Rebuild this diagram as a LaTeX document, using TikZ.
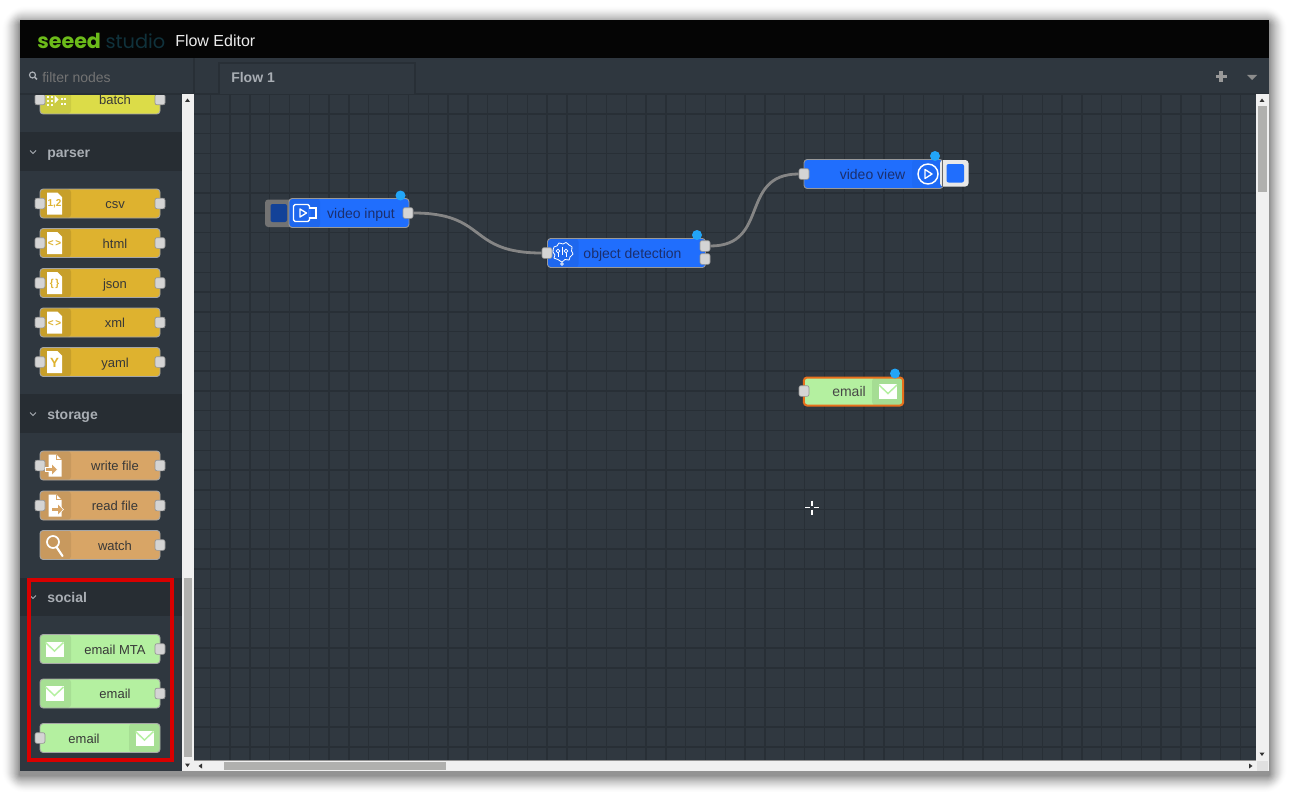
\documentclass[tikz,border=0pt]{standalone}
\usepackage{fontspec}
\setmainfont{Liberation Sans}
\newfontfamily\logofont{Poppins}
\usetikzlibrary{positioning}

\definecolor{barblack}{HTML}{050505}
\definecolor{panelcol}{HTML}{2F373F}
\definecolor{sectioncol}{HTML}{272D33}
\definecolor{canvascol}{HTML}{303840}
\definecolor{gridcol}{HTML}{282F36}
\definecolor{graytext}{HTML}{A9AEB4}
\definecolor{batchcol}{HTML}{DCDC48}
\definecolor{parsercol}{HTML}{DEB22F}
\definecolor{storecol}{HTML}{D8A566}
\definecolor{mailcol}{HTML}{B4F0A0}
\definecolor{bluecol}{HTML}{206EFD}
\definecolor{navytext}{HTML}{1B2F6E}
\definecolor{dotcol}{HTML}{22A5F7}
\definecolor{scrollcol}{HTML}{F0F0F0}
\definecolor{thumbcol}{HTML}{B0B0AE}

% icons, drawn round (0,0) in picture units
\newcommand{\docicon}[1]{%
  \fill[white] (-7.5,-11) -- (3,-11) -- (7.5,-6.5) -- (7.5,11) -- (-7.5,11) -- cycle;
  \node[iconlabel] (\nm-icon) at (0,0.5) {#1};}
\newcommand{\mailicon}{%
  \fill[white] (-9,-7.5) rectangle (9,7.5);
  \draw[mailcol,line width=1.1pt] (-9,-6.5) -- (0,2) -- (9,-6.5);}
\newcommand{\fileicon}[1]{%
  \fill[white] (-6,-11) -- (2,-11) -- (7,-6) -- (7,11) -- (-6,11) -- cycle;
  \draw[iconink,line width=.8pt] (2,-11) -- (2,-6) -- (7,-6);
  \fill[iconink,draw=white,line width=.5pt] (#1-6,2) -- (#1+0,2) -- (#1+0,-2) -- (#1+6,4) -- (#1+0,10) -- (#1+0,6) -- (#1-6,6) -- cycle;}
\newcommand{\lensicon}{%
  \draw[white,line width=1.3pt] (-1.5,-3) circle (6);
  \draw[white,line width=1.6pt,line cap=round] (2,2) -- (8,11);}
\newcommand{\batchicon}{%
  \foreach \dy in {-6,-2,2,6} {\fill[white!90!batchcol] (-7.5,\dy-1) rectangle (-5.5,\dy+1);
    \fill[white!90!batchcol] (-4,\dy-1) rectangle (-2,\dy+1);}
  \fill[white!90!batchcol] (0,-4) -- (4,0) -- (0,4) -- cycle;
  \foreach \dy in {0,5} {\fill[white!90!batchcol] (6,\dy-1) rectangle (8,\dy+1);
    \fill[white!90!batchcol] (9.5,\dy-1) rectangle (11.5,\dy+1);}}

\begin{document}
\begin{tikzpicture}[
  x=0.75pt, y=-0.75pt,
  flowbody/.style = {rectangle,rounded corners=2.4pt,line width=.7pt,inner sep=0pt,minimum height=21.75pt},
  leftbar/.style = {path picture={\fill[black,opacity=#1] (path picture bounding box.north west)
      rectangle ([xshift=23.25pt]path picture bounding box.south west);}},
  rightbar/.style = {path picture={\fill[black,opacity=#1] (path picture bounding box.north east)
      rectangle ([xshift=-23.25pt]path picture bounding box.south east);}},
  flowport/.style = {rectangle,rounded corners=1.5pt,fill=black!17,draw=black!42,line width=.5pt,
      inner sep=0pt,minimum width=7.5pt,minimum height=8pt},
  flowlabel/.style = {font=\fontsize{9.75}{11}\selectfont,text=black!78,inner sep=0pt,text height=7.5pt,text depth=0pt},
  canvaslabel/.style = {font=\fontsize{10.5}{12}\selectfont,text=navytext,inner sep=0pt,text height=8.2pt,text depth=0pt},
  iconlabel/.style = {font=\bfseries\fontsize{7.5}{8}\selectfont,text=iconink,inner sep=0pt},
  section/.style = {font=\bfseries\fontsize{10.5}{12}\selectfont,text=graytext,anchor=west,inner sep=0pt,text height=8.4pt,text depth=0pt},
  bluedot/.style = {circle,fill=dotcol,inner sep=0pt,minimum size=7.5pt},
  gridline/.style = {gridcol,line width=1.05pt},
  chevron/.style = {graytext,line width=.6pt},
  wire/.style = {draw=black!48,line width=2.1pt},
  arrowtip/.style = {fill=black!80}
]
  \useasboundingbox (0,0) rectangle (1289,792);

  % soft shadow of the window
  \foreach \s in {1,...,18} {
    \pgfmathsetmacro{\alpha}{0.06*(19-\s)/19}
    \fill[black,opacity=\alpha,rounded corners=\s pt] ({20-\s},{24-\s}) rectangle ({1269+\s},{775+\s});
  }

  % panels
  \fill[panelcol] (20,58) rectangle (182,771);
  \fill[canvascol] (194,94) rectangle (1256,760);
  \foreach \gx in {0,...,52}
    \draw[gridline] ({210.3+\gx*19.81},94) -- ({210.3+\gx*19.81},760);
  \foreach \gy in {0,...,32}
    \draw[gridline] (194,{114+\gy*19.78}) -- (1256,{114+\gy*19.78});

  % palette sections
  \fill[sectioncol] (20,132) rectangle (182,171);
  \fill[sectioncol] (20,394) rectangle (182,433);
  \fill[sectioncol] (20,578) rectangle (182,616);
  \foreach \nm/\lbl/\ypos in {parser/parser/152,storage/storage/414,social/social/597} {
    \node[section] (\nm-head) at (47,\ypos) {\lbl};
    \draw[chevron] (30,{\ypos-1.5}) -- (33,{\ypos+1.5}) -- (36,{\ypos-1.5});
  }

  % palette nodes with a port on each side
  \begin{scope}
    \colorlet{iconink}{batchcol}
    \foreach \nm/\lbl/\ypos/\ic in {batch/batch/99.5/\batchicon} {
      \node[flowbody,fill=batchcol,draw=black!35,leftbar=.07,minimum width=90pt] (\nm) at (100,\ypos) {};
      \node[flowlabel] (\nm-text) at (115,\ypos) {\lbl};
      \node[flowport] (\nm-in) at (40,\ypos) {};
      \node[flowport] (\nm-out) at (160,\ypos) {};
      \begin{scope}[shift={(54.5,\ypos)}]\ic\end{scope}
    }
  \end{scope}
  \begin{scope}
    \colorlet{iconink}{parsercol}
    \foreach \nm/\lbl/\ypos/\ic in {csv/csv/203.5/\docicon{1,2},html/html/243/\docicon{<\,>},
        json/json/283/\docicon{\{\,\}},xml/xml/322.5/\docicon{<\,>},yaml/yaml/362/\docicon{\fontsize{10}{10}\selectfont Y}} {
      \node[flowbody,fill=parsercol,draw=black!35,leftbar=.1,minimum width=90pt] (\nm) at (100,\ypos) {};
      \node[flowlabel] (\nm-text) at (115,\ypos) {\lbl};
      \node[flowport] (\nm-in) at (40,\ypos) {};
      \node[flowport] (\nm-out) at (160,\ypos) {};
      \begin{scope}[shift={(54.5,\ypos)}]\ic\end{scope}
    }
  \end{scope}
  \begin{scope}
    \colorlet{iconink}{storecol}
    \foreach \nm/\lbl/\ypos/\ic in {writefile/write file/465.5/\fileicon{-3},readfile/read file/505.5/\fileicon{3}} {
      \node[flowbody,fill=storecol,draw=black!35,leftbar=.07,minimum width=90pt] (\nm) at (100,\ypos) {};
      \node[flowlabel] (\nm-text) at (115,\ypos) {\lbl};
      \node[flowport] (\nm-in) at (40,\ypos) {};
      \node[flowport] (\nm-out) at (160,\ypos) {};
      \begin{scope}[shift={(54.5,\ypos)}]\ic\end{scope}
    }
  \end{scope}

  % palette nodes with one port
  \foreach \nm/\lbl/\ypos/\colr/\ic in {watch/watch/545/storecol/\lensicon,
      emailmta/email MTA/649/mailcol/\mailicon,emailin/email/693.5/mailcol/\mailicon} {
    \node[flowbody,fill=\colr,draw=black!35,leftbar=.07,minimum width=90pt] (\nm) at (100,\ypos) {};
    \node[flowlabel] (\nm-text) at (115,\ypos) {\lbl};
    \node[flowport] (\nm-out) at (160,\ypos) {};
    \begin{scope}[shift={(54.5,\ypos)}]\ic\end{scope}
  }
  \node[flowbody,fill=mailcol,draw=black!35,rightbar=.07,minimum width=90pt] (emailout) at (100,738) {};
  \node[flowlabel] (emailout-text) at (84,738) {email};
  \node[flowport] (emailout-in) at (40,738) {};
  \begin{scope}[shift={(144.5,738)}]\mailicon\end{scope}

  % highlight round the social section
  \draw[red!85!black,line width=2.7pt] (29,580) rectangle (172,760);

  % title bar and tab bar
  \fill[barblack] (20,20) rectangle (1269,58);
  \fill[panelcol] (20,58) rectangle (1269,94);
  \draw[gridcol,line width=.8pt] (194,58) -- (194,94);
  \draw[gridcol,line width=.8pt] (20,94) -- (1269,94);
  \draw[gridcol,line width=.8pt,fill=canvascol] (219,94) -- (219,63) -- (415,63) -- (415,94);
  \node[anchor=west,inner sep=0pt,text={rgb,255:red,108;green,187;blue,26},font=\logofont\bfseries\fontsize{15.5}{16}\selectfont] (logoa) at (37,41) {seeed};
  \node[right=3pt of logoa,inner sep=0pt,text={rgb,255:red,16;green,50;blue,60},font=\logofont\fontsize{14.5}{16}\selectfont] (logob) {studio};
  \node[anchor=west,inner sep=0pt,text=black!8,font=\fontsize{12}{14}\selectfont] (title) at (175,40.5) {Flow Editor};
  \node[anchor=west,inner sep=0pt,text=black!55,font=\fontsize{10.5}{12}\selectfont] (filter) at (42,77) {filter nodes};
  \draw[graytext,line width=.9pt] (32.5,75) circle (3);
  \draw[graytext,line width=1.1pt] (34.7,77.2) -- (37,79.5);
  \node[anchor=west,inner sep=0pt,text=graytext,font=\bfseries\fontsize{10.5}{12}\selectfont] (flowtab) at (231,77.5) {Flow 1};
  \draw[black!40,line width=2.3pt] (1215.5,76.5) -- (1226.5,76.5) (1221,71) -- (1221,82);
  \fill[black!45] (1247,75) -- (1257,75) -- (1252,80) -- cycle;

  % scrollbars
  \fill[scrollcol] (182,94) rectangle (194,771);
  \fill[thumbcol] (183.5,578) rectangle (192,757);
  \fill[arrowtip] (185,102) -- (190,102) -- (187.5,98.5) -- cycle;
  \fill[arrowtip] (185,763.5) -- (190,763.5) -- (187.5,767) -- cycle;
  \fill[scrollcol] (1256,94) rectangle (1269,771);
  \fill[thumbcol] (1258,106) rectangle (1267,192);
  \fill[arrowtip] (1259.5,102) -- (1264.5,102) -- (1262,98.5) -- cycle;
  \fill[arrowtip] (1259.5,752.5) -- (1264.5,752.5) -- (1262,756) -- cycle;
  \fill[scrollcol] (194,760.5) rectangle (1269,771);
  \fill[thumbcol] (224,761.5) rectangle (446,770);
  \fill[black!12] (1257,761) rectangle (1268,771);
  \fill[arrowtip] (202,763.5) -- (202,768.5) -- (198.5,766) -- cycle;
  \fill[arrowtip] (1249,763.5) -- (1249,768.5) -- (1252.5,766) -- cycle;

  % flow nodes on the canvas
  \fill[black!55,rounded corners=2.4pt] (265,199.5) rectangle (294,227);
  \fill[bluecol!60!black,rounded corners=1.5pt] (270.5,204) rectangle (287,222);
  \node[flowbody,fill=bluecol,draw=black!40,leftbar=.06,minimum width=90pt] (vinput) at (349,213) {};
  \node[canvaslabel] (vinput-text) at (361,213) {video input};
  \node[flowport] (vinput-out) at (408,213) {};
  \node[bluedot] (vinput-dot) at (400.5,195.5) {};
  \draw[white,line width=1.1pt,rounded corners=1.2pt] (293.5,204.5) rectangle (309.5,221.5);
  \draw[white,line width=1.1pt] (309.5,208) -- (316,208) -- (316,218) -- (309.5,218);
  \fill[bluecol] (308.5,209) rectangle (310.5,217);
  \draw[white,line width=1pt,line join=round] (300,209) -- (306.5,213) -- (300,217) -- cycle;

  \node[flowbody,fill=bluecol,draw=black!40,leftbar=.06,minimum width=118.5pt] (odetect) at (626.5,253) {};
  \node[canvaslabel] (odetect-text) at (632.5,253) {object detection};
  \node[flowport] (odetect-in) at (547,253) {};
  \node[flowport] (odetect-out) at (705,246) {};
  \node[flowport] (odetect-alt) at (705,259) {};
  \node[bluedot] (odetect-dot) at (697,235) {};
  \draw[white,line width=.6pt] plot[smooth cycle] coordinates {(553,252) (554,247) (557,246) (559,243) (563,244) (566,242.5) (569,245) (572,247) (571.5,251) (573,254) (570,257) (569,260) (565,259.5) (562,262) (558,259.5) (554,258) (555,255)};
  \draw[white,line width=.5pt] (558,251) circle (1.8) (566,251) circle (1.8) (562,264) circle (1.3);
  \draw[white,line width=.5pt] (562,247) -- (562,255) (558,253) -- (558,257) (566,253) -- (566,257);

  \node[flowbody,fill=bluecol,draw=black!40,rightbar=.03,minimum width=104.25pt] (vview) at (873.5,174) {};
  \node[canvaslabel] (vview-text) at (872.5,174) {video view};
  \node[flowport] (vview-in) at (804,174) {};
  \node[bluedot] (vview-dot) at (935,156) {};
  \draw[white,line width=1.1pt] (928,174) circle (10);
  \draw[white,line width=1pt,line join=round] (925,169.5) -- (932,174) -- (925,178.5) -- cycle;
  \fill[black!9,rounded corners=2.4pt] (940,160) rectangle (968.5,186.5);
  \draw[black!60,line width=.5pt] (942.5,160) -- (942.5,186.5);
  \fill[bluecol,rounded corners=1.5pt] (946.5,164) rectangle (964,182.5);

  \node[flowbody,fill=mailcol,draw={rgb,255:red,232;green,112;blue,28},line width=1.5pt,rightbar=.08,minimum width=74.5pt,minimum height=21pt] (email) at (853.5,391.5) {};
  \node[canvaslabel,text=black!72] (email-text) at (849,391) {email};
  \node[flowport] (email-in) at (804,391) {};
  \node[bluedot] (email-dot) at (895,373.5) {};
  \begin{scope}[shift={(888,391.5)}]\mailicon\end{scope}

  % wires
  \draw[wire] (vinput-out.east) .. controls +(75,0) and +(-75,0) .. (odetect-in.west);
  \draw[wire] (odetect-out.east) .. controls +(60,0) and +(-60,0) .. (vview-in.west);

  % mouse cursor
  \draw[white,line width=1.1pt] (812,500.5) -- (812,505.5) (812,509.5) -- (812,514.5) (805,507.5) -- (810,507.5) (814,507.5) -- (819,507.5);
\end{tikzpicture}
\end{document}
